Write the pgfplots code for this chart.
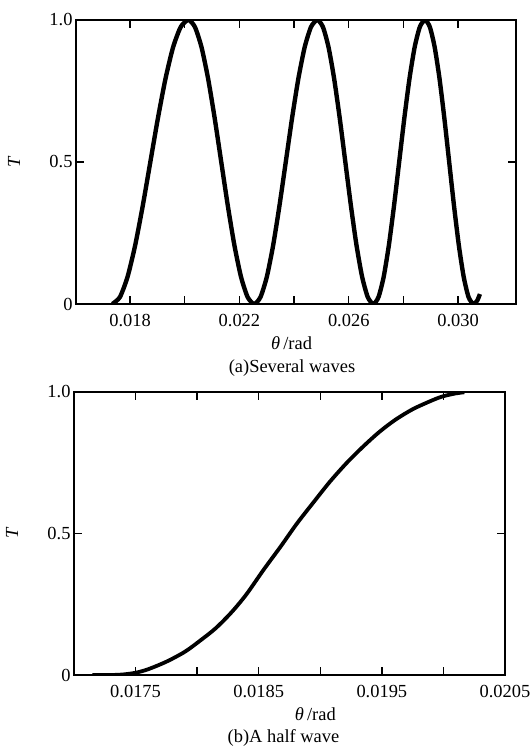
\documentclass[border=0pt]{standalone}
\usepackage{pgfplots}
\pgfplotsset{compat=1.18}
\usepackage{fontspec}
\setmainfont{Liberation Serif}
\newcommand{\myfont}{\fontsize{18.5}{21}\selectfont}
\begin{document}
\begin{tikzpicture}[font=\myfont]
\path[use as bounding box] (0,0) rectangle (531bp,747bp);
\pgfplotsset{
  myaxis/.style={
    scale only axis,
    /pgf/number format/assume math mode=true,
    tick label style={font=\myfont},
    label style={font=\myfont},
    axis line style={line width=1.3pt},
    every tick/.style={line width=1.3pt, black},
    major tick length=8bp,
    tick align=inside,
    ymin=0, ymax=1,
    ytick={0,0.5,1}, yticklabels={0,0.5,1.0},
    ylabel={\itshape T},
    scaled x ticks=false,
  }
}
% ---------- (a) several waves ----------
\begin{axis}[myaxis, name=top,
  at={(76bp,443bp)}, anchor=south west,
  width=440bp, height=284bp,
  xmin=0.01602, xmax=0.03212,
  xtick={0.018,0.020,0.022,0.024,0.026,0.028,0.030},
  xticklabels={0.018,,0.022,,0.026,,0.030},
  xticklabel style={anchor=base, yshift=-23bp},
  xlabel={{\itshape θ}\,/rad},
  xlabel style={at={([yshift=-46bp]axis description cs:0.49,0)}, anchor=base},
  ylabel style={at={([xshift=-62bp]axis description cs:0,0.5)}, anchor=center},
]
\addplot[black, line width=4.4pt, smooth, tension=0.4] coordinates {
(0.017350,0) (0.017628,0.0245) (0.017906,0.0955) (0.018184,0.2061) (0.018462,0.3455)
(0.018740,0.5) (0.019018,0.6545) (0.019296,0.7939) (0.019574,0.9045) (0.019852,0.9755)
(0.020130,1)
(0.020371,0.9755) (0.020612,0.9045) (0.020853,0.7939) (0.021094,0.6545) (0.021335,0.5)
(0.021576,0.3455) (0.021817,0.2061) (0.022058,0.0955) (0.022299,0.0245) (0.022540,0)
(0.022771,0.0245) (0.023002,0.0955) (0.023233,0.2061) (0.023464,0.3455) (0.023695,0.5)
(0.023926,0.6545) (0.024157,0.7939) (0.024388,0.9045) (0.024619,0.9755) (0.024850,1)
(0.025055,0.9755) (0.025260,0.9045) (0.025465,0.7939) (0.025670,0.6545) (0.025875,0.5)
(0.026080,0.3455) (0.026285,0.2061) (0.026490,0.0955) (0.026695,0.0245) (0.026900,0)
(0.027089,0.0245) (0.027278,0.0955) (0.027467,0.2061) (0.027656,0.3455) (0.027845,0.5)
(0.028034,0.6545) (0.028223,0.7939) (0.028412,0.9045) (0.028601,0.9755) (0.028790,1)
(0.028967,0.9755) (0.029144,0.9045) (0.029321,0.7939) (0.029498,0.6545) (0.029675,0.5)
(0.029852,0.3455) (0.030029,0.2061) (0.030206,0.0955) (0.030383,0.0245) (0.030560,0)
(0.030700,0.012) (0.030800,0.035)
};
\end{axis}
\node[anchor=base] at ([xshift=-4bp,yshift=-69bp]top.south) {(a)Several waves};
% ---------- (b) a half wave ----------
\begin{axis}[myaxis, name=bot,
  at={(74bp,72bp)}, anchor=south west,
  width=431bp, height=283bp,
  xmin=0.0170, xmax=0.0205,
  xtick={0.0175,0.0180,0.0185,0.0190,0.0195,0.0200,0.0205},
  xticklabels={0.0175,,0.0185,,0.0195,,0.0205},
  xticklabel style={anchor=base, yshift=-22bp},
  xlabel={{\itshape θ}\,/rad},
  xlabel style={at={([yshift=-45bp]axis description cs:0.56,0)}, anchor=base},
  ylabel style={at={([xshift=-62bp]axis description cs:0,0.5)}, anchor=center},
]
\addplot[black, line width=3.8pt, smooth, tension=0.5] coordinates {
(0.01715,0.000) (0.01730,0.000) (0.01740,0.002) (0.01750,0.008) (0.01760,0.020)
(0.01775,0.047) (0.01790,0.082) (0.01802,0.120) (0.01815,0.165) (0.01828,0.222)
(0.01840,0.285) (0.01854,0.372) (0.01868,0.455) (0.01881,0.535) (0.01895,0.613)
(0.01908,0.684) (0.01922,0.752) (0.01935,0.808) (0.01948,0.859) (0.01961,0.902)
(0.01975,0.939) (0.01989,0.967) (0.01999,0.984) (0.02010,0.995) (0.02017,0.999)
};
\end{axis}
\node[anchor=base] at ([xshift=-6bp,yshift=-67bp]bot.south) {(b)A half wave};
\end{tikzpicture}
\end{document}
